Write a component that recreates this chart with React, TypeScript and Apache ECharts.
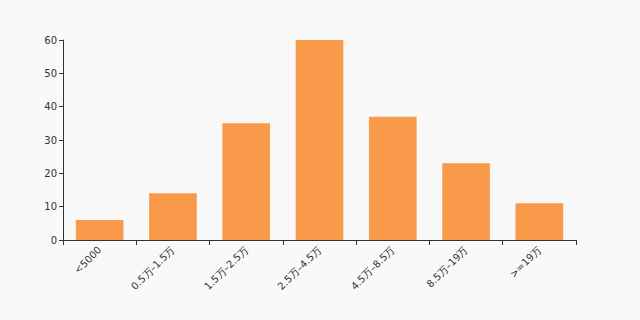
import React, { useEffect, useRef } from "react";
import * as echarts from "echarts";

const categories = ["<5000", "0.5万–1.5万", "1.5万–2.5万", "2.5万–4.5万", "4.5万–8.5万", "8.5万–19万", ">=19万"];
const values = [6, 14, 35, 60, 37, 23, 11];

export default function App() {
  const ref = useRef<HTMLDivElement>(null);
  useEffect(() => {
    const chart = echarts.init(ref.current!, null, { renderer: "svg" });
    chart.setOption({
      animation: false,
      backgroundColor: "#f9f9f9",
      grid: { left: 63, right: 64, top: 40, bottom: 80 },
      xAxis: {
        type: "category",
        data: categories,
        axisLine: { lineStyle: { color: "#333" } },
        axisTick: { show: true, alignWithLabel: false, length: 5, lineStyle: { color: "#333" } },
        axisLabel: { rotate: 45, color: "#333", fontSize: 10, fontFamily: "DejaVu Sans", interval: 0, margin: 8 },
      },
      yAxis: {
        type: "value",
        min: 0,
        max: 60,
        interval: 10,
        splitLine: { show: false },
        axisLine: { show: true, lineStyle: { color: "#333" } },
        axisTick: { show: true, length: 4, lineStyle: { color: "#333" } },
        axisLabel: { color: "#333", fontSize: 10, fontFamily: "DejaVu Sans", margin: 6 },
      },
      series: [
        {
          type: "bar",
          data: values,
          barWidth: "65%",
          itemStyle: { color: "#f89a4a" },
        },
      ],
    });
    return () => chart.dispose();
  }, []);
  return <div ref={ref} style={{ width: 640, height: 320, position: "absolute", left: 0, top: 0 }} />;
}
